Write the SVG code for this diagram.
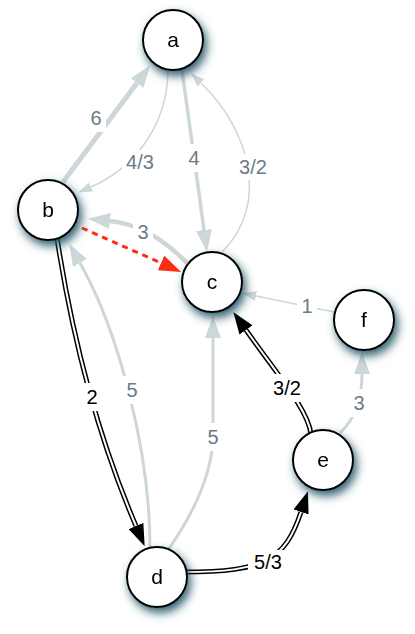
<svg xmlns="http://www.w3.org/2000/svg" width="415" height="634" viewBox="0 0 415 634">
<style>
.g{fill:none;stroke:#cdd6d9;stroke-linecap:butt}
.bo{fill:none;stroke:#000;stroke-width:5}
.bi{fill:none;stroke:#fff;stroke-width:2}
.red{fill:none;stroke:#ff2a14;stroke-width:3;stroke-dasharray:6 5}
.lbl{font-family:"Liberation Sans",Arial,sans-serif;font-size:20px;text-anchor:middle}
.lg{fill:#6b7b85}
.lb{fill:#000}
.bg{fill:#fff}
.node circle{fill:#fff;stroke:#000;stroke-width:2}
.node text{font-family:"Liberation Sans",Arial,sans-serif;font-size:21px;text-anchor:middle;fill:#000}
</style>
<defs>
<filter id="sh" x="-60%" y="-60%" width="220%" height="220%">
<feGaussianBlur in="SourceAlpha" stdDeviation="5"/>
<feOffset dx="3" dy="5" result="b"/>
<feFlood flood-color="#1d4f60" flood-opacity="0.9"/>
<feComposite in2="b" operator="in"/>
<feMerge><feMergeNode/><feMergeNode in="SourceGraphic"/></feMerge>
</filter>
<marker id="gL" markerUnits="userSpaceOnUse" viewBox="0 0 22 16" markerWidth="22" markerHeight="16" refX="0" refY="8" orient="auto"><path d="M0,0 L22,8 L0,16 z" fill="#cdd6d9"/></marker>
<marker id="gS" markerUnits="userSpaceOnUse" viewBox="0 0 14 10" markerWidth="14" markerHeight="10" refX="0" refY="5" orient="auto"><path d="M0,0 L14,5 L0,10 z" fill="#cdd6d9"/></marker>
<marker id="bk" markerUnits="userSpaceOnUse" viewBox="0 0 22 16" markerWidth="22" markerHeight="16" refX="0" refY="8" orient="auto"><path d="M0,0 L22,8 L0,16 z" fill="#000"/></marker>
<marker id="rd" markerUnits="userSpaceOnUse" viewBox="0 0 22 16" markerWidth="22" markerHeight="16" refX="0" refY="8" orient="auto"><path d="M0,0 L22,8 L0,16 z" fill="#ff2a14"/></marker>
</defs>
<rect width="415" height="634" fill="#fff"/>
<g id="edges">
<path class="g" stroke-width="5" d="M63,182 L137,83" marker-end="url(#gL)"/>
<path class="g" stroke-width="1.5" d="M168,71 C167,130 130,170 91,187" marker-end="url(#gS)"/>
<path class="g" stroke-width="3.5" d="M182,70 L204,230" marker-end="url(#gL)"/>
<path class="g" stroke-width="1.5" d="M222,252 C270,205 250,130 201,83" marker-end="url(#gS)"/>
<path class="g" stroke-width="4.5" d="M187,263 Q150,225 110,221" marker-end="url(#gL)"/>
<path class="red" d="M82,228 L161,263" marker-end="url(#rd)"/>
<path class="bo" d="M57,238 Q82,400 136,526"/>
<path class="bi" d="M57,238 Q82,400 136,526" marker-end="url(#bk)"/>
<path class="g" stroke-width="3" d="M150,548 C150,450 118,330 80,263" marker-end="url(#gL)"/>
<path class="g" stroke-width="3" d="M168,550 Q210,490 213,440 L213,338" marker-end="url(#gL)"/>
<path class="bo" d="M184,572 C265,572 285,560 301,512"/>
<path class="bi" d="M184,572 C265,572 285,560 301,512" marker-end="url(#bk)"/>
<path class="bo" d="M311,434 C308,410 280,378 246,330"/>
<path class="bi" d="M311,434 C308,410 280,378 246,330" marker-end="url(#bk)"/>
<path class="g" stroke-width="3" d="M340,433 Q362,412 362,374" marker-end="url(#gL)"/>
<path class="g" stroke-width="1.5" d="M334,312 L256,296" marker-end="url(#gS)"/>
<rect class="bg" x="86" y="104" width="20" height="28"/>
<rect class="bg" x="122" y="150" width="36" height="24"/>
<rect class="bg" x="185" y="144" width="18" height="28"/>
<rect class="bg" x="235" y="154" width="36" height="26"/>
<rect class="bg" x="133" y="220" width="20" height="24"/>
<rect class="bg" x="82" y="383" width="20" height="28"/>
<rect class="bg" x="122" y="376" width="20" height="28"/>
<rect class="bg" x="203" y="423" width="20" height="28"/>
<rect class="bg" x="248" y="550" width="40" height="24"/>
<rect class="bg" x="269" y="374" width="36" height="28"/>
<rect class="bg" x="349" y="389" width="20" height="28"/>
<rect class="bg" x="297" y="294" width="20" height="24"/>
<text class="lbl lg" x="96" y="125">6</text>
<text class="lbl lg" x="140" y="169">4/3</text>
<text class="lbl lg" x="194" y="165">4</text>
<text class="lbl lg" x="253" y="174">3/2</text>
<text class="lbl lg" x="143" y="239">3</text>
<text class="lbl lb" x="92" y="404">2</text>
<text class="lbl lg" x="132" y="397">5</text>
<text class="lbl lg" x="213" y="444">5</text>
<text class="lbl lb" x="268" y="569">5/3</text>
<text class="lbl lb" x="287" y="395">3/2</text>
<text class="lbl lg" x="359" y="410">3</text>
<text class="lbl lg" x="307" y="313">1</text>
</g>
<g id="node-a" class="node" filter="url(#sh)"><circle cx="173" cy="40" r="30"/><text x="173" y="47">a</text></g>
<g id="node-b" class="node" filter="url(#sh)"><circle cx="48" cy="210" r="30"/><text x="48" y="217">b</text></g>
<g id="node-c" class="node" filter="url(#sh)"><circle cx="212" cy="282" r="30"/><text x="212" y="289">c</text></g>
<g id="node-d" class="node" filter="url(#sh)"><circle cx="157" cy="577" r="30"/><text x="157" y="584">d</text></g>
<g id="node-e" class="node" filter="url(#sh)"><circle cx="323" cy="460" r="30"/><text x="323" y="467">e</text></g>
<g id="node-f" class="node" filter="url(#sh)"><circle cx="364" cy="320" r="30"/><text x="364" y="327">f</text></g>
</svg>
